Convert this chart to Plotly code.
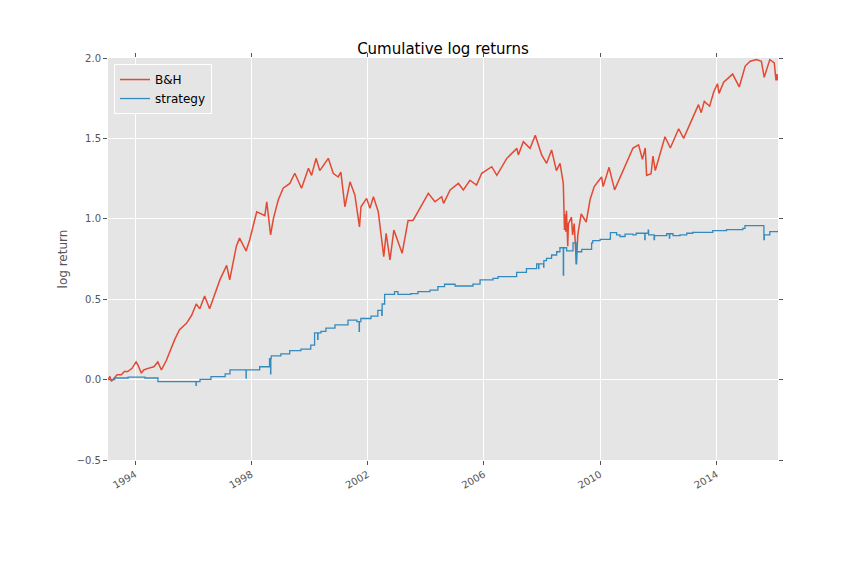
import plotly.graph_objects as go

# ---------------- data ----------------
bh_dates = [
    "1993-01-29", "1993-02-18", "1993-03-10", "1993-04-19", "1993-05-20", "1993-07-12", "1993-08-20",
    "1993-10-01", "1993-11-24", "1994-01-14", "1994-02-07", "1994-03-21", "1994-04-20",
    "1994-06-13", "1994-08-25", "1994-10-14", "1994-11-28", "1995-01-30", "1995-03-15",
    "1995-05-15", "1995-07-14", "1995-10-09", "1995-12-13", "1996-02-09", "1996-03-25",
    "1996-05-24", "1996-07-26", "1996-10-01", "1996-12-02", "1997-02-25", "1997-04-04",
    "1997-06-27", "1997-08-06", "1997-10-27", "1997-12-12",
    "1998-03-10", "1998-06-20", "1998-07-14", "1998-08-31", "1998-10-05", "1998-12-05",
    "1999-02-05", "1999-04-30", "1999-07-01", "1999-09-24", "1999-12-20", "2000-01-28",
    "2000-03-24", "2000-05-10", "2000-08-25", "2000-10-26", "2000-12-27", "2001-01-30",
    "2001-03-22", "2001-05-25", "2001-07-25", "2001-09-21", "2001-10-10", "2001-12-20",
    "2002-01-30", "2002-03-15", "2002-05-15", "2002-07-23", "2002-08-22", "2002-10-09",
    "2002-11-27", "2003-01-22", "2003-03-11", "2003-05-25", "2003-07-26", "2003-10-20",
    "2004-02-03", "2004-04-26", "2004-07-20", "2004-08-13", "2004-11-03", "2005-02-15",
    "2005-04-18", "2005-07-10", "2005-10-01", "2005-12-05", "2006-04-10", "2006-06-13",
    "2006-10-16", "2007-02-20", "2007-03-10", "2007-05-12", "2007-08-04", "2007-10-09",
    "2007-12-28", "2008-02-28", "2008-05-01", "2008-07-01", "2008-08-15", "2008-09-25",
    "2008-10-10", "2008-10-13", "2008-10-27", "2008-11-04", "2008-11-20", "2008-11-28",
    "2009-01-06", "2009-01-20", "2009-02-09", "2009-03-09", "2009-03-26", "2009-05-08",
    "2009-07-10", "2009-08-28", "2009-10-19", "2010-01-19", "2010-02-08", "2010-04-23",
    "2010-07-02", "2010-11-04", "2011-02-18", "2011-04-29", "2011-06-16", "2011-07-22",
    "2011-08-08", "2011-10-03", "2011-10-27", "2011-11-25", "2012-03-26", "2012-06-01",
    "2012-09-14", "2012-11-15", "2013-02-19", "2013-05-21", "2013-06-24", "2013-08-02",
    "2013-10-08", "2013-11-29", "2014-01-15", "2014-02-03", "2014-04-02", "2014-07-24",
    "2014-10-15", "2014-12-29", "2015-03-02", "2015-05-20", "2015-07-20", "2015-08-25",
    "2015-11-03", "2015-12-29", "2016-01-20", "2016-02-01", "2016-02-11",
]
bh_values = [
    0.00, 0.02, -0.01, 0.01, 0.03, 0.03, 0.05,
    0.05, 0.07, 0.11, 0.09, 0.04, 0.06,
    0.07, 0.08, 0.11, 0.06, 0.12, 0.18,
    0.25, 0.31, 0.35, 0.40, 0.47, 0.44,
    0.52, 0.44, 0.54, 0.62, 0.71, 0.62,
    0.83, 0.88, 0.80, 0.87,
    1.044, 1.02, 1.106, 0.90, 1.00, 1.117,
    1.19, 1.22, 1.283, 1.19, 1.314, 1.27,
    1.376, 1.30, 1.376, 1.283, 1.26, 1.29,
    1.075, 1.23, 1.148, 0.95, 1.075, 1.127,
    1.065, 1.137, 1.044, 0.764, 0.91, 0.744,
    0.93, 0.848, 0.785, 0.99, 0.99, 1.065,
    1.158, 1.106, 1.137, 1.096, 1.18, 1.22,
    1.18, 1.24, 1.21, 1.283, 1.324, 1.27,
    1.376, 1.438, 1.397, 1.48, 1.438, 1.52,
    1.397, 1.345, 1.428, 1.30, 1.345, 1.22,
    0.93, 1.03, 0.92, 1.05, 0.83, 0.97,
    1.01, 0.90, 0.97, 0.72, 0.90, 1.03,
    0.98, 1.12, 1.20, 1.26, 1.20, 1.32,
    1.18, 1.32, 1.44, 1.46, 1.37, 1.44,
    1.27, 1.28, 1.39, 1.30, 1.51, 1.44,
    1.56, 1.50, 1.61, 1.71, 1.66, 1.73,
    1.70, 1.79, 1.84, 1.78, 1.85, 1.90,
    1.82, 1.95, 1.98, 1.99, 1.98, 1.88,
    1.99, 1.97, 1.86, 1.90, 1.86,
]

strat_dates = [
    "1993-01-29", "1993-04-20", "1993-10-05", "1994-05-05", "1994-10-16", "1996-02-06",
    "1996-02-09", "1996-03-27", "1996-08-12", "1997-02-06", "1997-04-08", "1997-10-27",
    "1997-10-29", "1998-04-16", "1998-08-18", "1998-08-31", "1998-09-03", "1998-09-08",
    "1999-01-07", "1999-04-28", "1999-09-16", "2000-01-18", "2000-03-06", "2000-04-14",
    "2000-04-18", "2000-05-25", "2000-07-26", "2000-11-17", "2001-04-30", "2001-08-20",
    "2001-09-17", "2001-09-20", "2001-10-08", "2002-02-13", "2002-05-10", "2002-06-28",
    "2002-07-03", "2002-08-03", "2002-12-06", "2003-01-17", "2003-06-28", "2003-09-26",
    "2004-02-24", "2004-06-02", "2004-08-25", "2005-01-04", "2005-08-17", "2005-11-14",
    "2006-04-26", "2006-06-28", "2007-02-17", "2007-06-20", "2007-10-26", "2007-11-20",
    "2007-11-23", "2008-01-22", "2008-01-25", "2008-02-27", "2008-05-01", "2008-07-04",
    "2008-08-14", "2008-09-25", "2008-09-29", "2008-11-06", "2009-01-25", "2009-03-06",
    "2009-03-10", "2009-05-15", "2009-09-16", "2009-10-01", "2010-01-01", "2010-05-04",
    "2010-05-10", "2010-07-27", "2010-09-07", "2010-11-10", "2011-02-17", "2011-03-30",
    "2011-07-16", "2011-07-20", "2011-08-28", "2011-09-02", "2011-11-10", "2011-11-15",
    "2011-11-22", "2012-04-16", "2012-05-20", "2012-05-24", "2012-07-05", "2012-10-01",
    "2012-12-24", "2013-03-10", "2013-11-16", "2014-05-08", "2014-11-29", "2014-12-26",
    "2015-08-21", "2015-08-26", "2015-11-03", "2016-02-12",
]
strat_values = [
    0.000, 0.010, 0.015, 0.010, -0.013, -0.035,
    -0.013, 0.002, 0.018, 0.035, 0.060, 0.010,
    0.060, 0.080, 0.130, 0.035, 0.130, 0.147,
    0.160, 0.180, 0.190, 0.215, 0.290, 0.250,
    0.290, 0.300, 0.320, 0.340, 0.370, 0.360,
    0.300, 0.360, 0.380, 0.395, 0.430, 0.400,
    0.470, 0.530, 0.547, 0.530, 0.535, 0.547,
    0.557, 0.578, 0.593, 0.582, 0.594, 0.620,
    0.630, 0.640, 0.667, 0.690, 0.720, 0.690,
    0.720, 0.700, 0.740, 0.754, 0.775, 0.795,
    0.820, 0.650, 0.820, 0.800, 0.850, 0.720,
    0.795, 0.810, 0.850, 0.864, 0.872, 0.875,
    0.914, 0.900, 0.890, 0.905, 0.900, 0.910,
    0.870, 0.910, 0.930, 0.900, 0.870, 0.895,
    0.895, 0.907, 0.880, 0.907, 0.895, 0.900,
    0.910, 0.915, 0.926, 0.933, 0.940, 0.957,
    0.870, 0.900, 0.920, 0.925,
]

x_tick_vals = ["1994-01-01", "1998-01-01", "2002-01-01", "2006-01-01", "2010-01-01", "2014-01-01"]
x_tick_text = ["1994", "1998", "2002", "2006", "2010", "2014"]
y_tick_vals = [-0.5, 0.0, 0.5, 1.0, 1.5, 2.0]
y_tick_text = ["\u22120.5", "0.0", "0.5", "1.0", "1.5", "2.0"]

# ---------------- figure ----------------
FONT = "DejaVu Sans, Bitstream Vera Sans, sans-serif"

fig = go.Figure()
fig.add_trace(go.Scatter(x=bh_dates, y=bh_values, mode="lines", name="B&H",
                         line=dict(color="#E24A33", width=1.5)))
fig.add_trace(go.Scatter(x=strat_dates, y=strat_values, mode="lines", name="strategy",
                         line=dict(color="#348ABD", width=1.3, shape="hv")))

fig.update_layout(
    width=864, height=576,
    margin=dict(l=100, r=94, t=50, b=124),
    paper_bgcolor="white",
    plot_bgcolor="#E5E5E5",
    font=dict(family=FONT, size=10, color="#555555"),
    title=dict(text="Cumulative log returns", x=0.5, xref="paper", xanchor="center",
               y=1, yref="paper", yanchor="bottom", pad=dict(b=4),
               font=dict(family=FONT, size=15, color="black")),
    showlegend=True,
    legend=dict(x=0.009, y=0.985, xanchor="left", yanchor="top",
                bgcolor="#E5E5E5", bordercolor="white", borderwidth=1,
                font=dict(family=FONT, size=12, color="black"),
                itemwidth=30, tracegroupgap=0),
    xaxis=dict(type="date", range=["1993-01-26", "2016-02-14"],
               tickmode="array", tickvals=x_tick_vals, ticktext=x_tick_text,
               tickangle=-30, showgrid=True, gridcolor="white", gridwidth=1,
               zeroline=False, showline=False, ticks="outside", ticklen=4,
               tickcolor="#555555", mirror="ticks",
               tickfont=dict(family=FONT, size=10, color="#555555")),
    yaxis=dict(range=[-0.5, 2.0], tickmode="array", tickvals=y_tick_vals,
               ticktext=y_tick_text, showgrid=True, gridcolor="white", gridwidth=1,
               zeroline=False, showline=False, ticks="outside", ticklen=4,
               tickcolor="#555555", mirror="ticks",
               title=dict(text="log return", font=dict(family=FONT, size=12, color="#555555"),
                          standoff=6),
               tickfont=dict(family=FONT, size=10, color="#555555")),
)

fig.write_html("out.html")
